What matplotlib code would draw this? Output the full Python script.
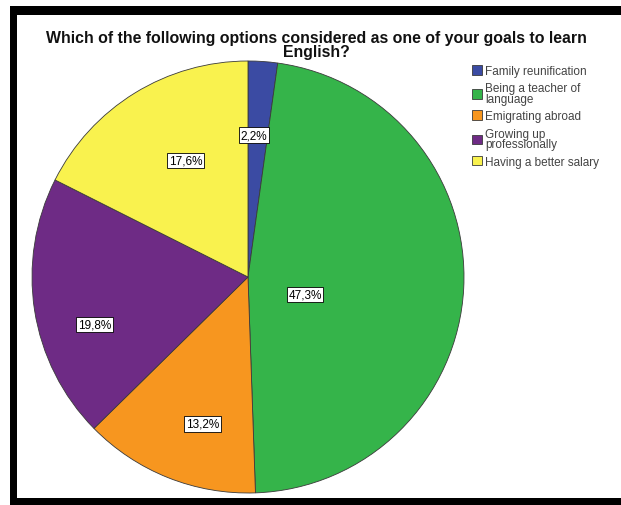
import matplotlib
matplotlib.use("Agg")
import matplotlib.pyplot as plt
from matplotlib.patches import Rectangle

# Survey answers and their shares (%)
categories = [
    "Family reunification",
    "Being a teacher of\nlanguage",
    "Emigrating abroad",
    "Growing up\nprofessionally",
    "Having a better salary",
]
shares = [2.2, 47.3, 13.2, 19.8, 17.6]
colors = ["#3b4ba3", "#35b44a", "#f7961f", "#6e2b85", "#f9f24e"]

# Label placement inside the pie, as (x, y) fractions of the radius
label_pos = [(0.028, 0.657), (0.264, -0.08), (-0.21, -0.68), (-0.71, -0.22), (-0.29, 0.54)]

W, H = 621, 506
plt.rcParams["font.family"] = ["Liberation Sans", "DejaVu Sans"]
fig = plt.figure(figsize=(W / 100, H / 100), dpi=100)
fig.patch.set_facecolor("white")

# Pie axes: centre and radius in pixels
cx, cy, r = 248, 278, 216
ax = fig.add_axes([(cx - r) / W, (H - cy - r) / H, 2 * r / W, 2 * r / H])

wedges, _ = ax.pie(
    shares,
    colors=colors,
    startangle=90,
    counterclock=False,
    radius=1.0,
    wedgeprops=dict(edgecolor="#3a3a3a", linewidth=0.6),
)
ax.set_xlim(-1, 1)
ax.set_ylim(-1, 1)
ax.set_aspect("equal")
ax.axis("off")

for val, (lx, ly) in zip(shares, label_pos):
    ax.text(
        lx, ly, f"{val:.1f}%".replace(".", ","),
        ha="center", va="center", fontsize=8.5, color="black",
        bbox=dict(boxstyle="square,pad=0.15", facecolor="white",
                  edgecolor="black", linewidth=0.6),
    )

# Title
fig.text(316 / W, 1 - 31 / H,
         "Which of the following options considered as one of your goals to learn\nEnglish?",
         ha="center", va="top", fontsize=11.4, fontweight="bold",
         color="#111111", linespacing=0.95)

# Legend
leg = fig.legend(
    wedges, categories,
    loc="upper left", bbox_to_anchor=(472 / W, 1 - 66 / H),
    frameon=False, fontsize=8.5, labelcolor="#444444",
    handlelength=0.85, handleheight=0.85, handletextpad=0.25,
    labelspacing=0.45, borderaxespad=0, borderpad=0,
)
for t in leg.get_texts():
    t.set_linespacing(0.85)

# Black frame (left, top, bottom edges)
def bar(x0, y0, x1, y1):
    fig.patches.append(Rectangle((x0 / W, 1 - y1 / H), (x1 - x0) / W, (y1 - y0) / H,
                                 transform=fig.transFigure, facecolor="black",
                                 edgecolor="none", zorder=10))

bar(10, 7, W, 16)
bar(10, 7, 17, H)
bar(10, 499, W, H)

fig.savefig("out.png", dpi=100, facecolor="white")
